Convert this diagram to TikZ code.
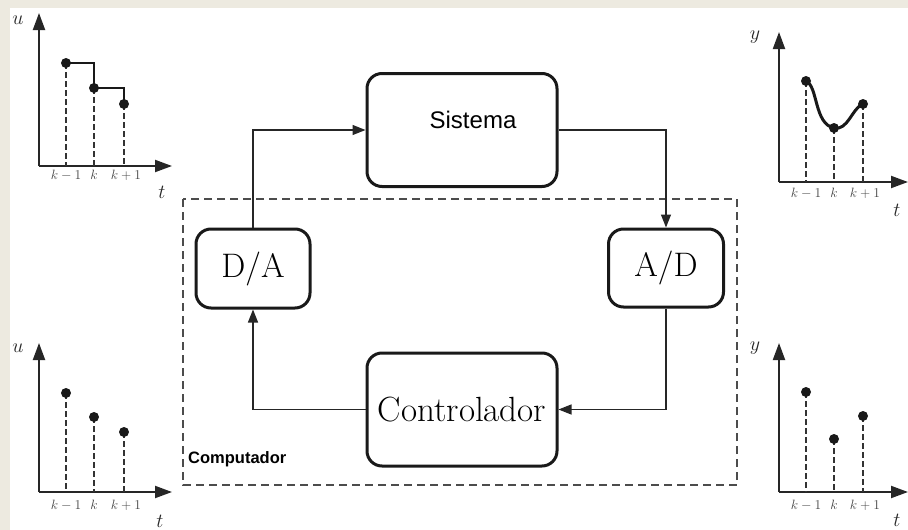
\RequirePackage{fix-cm}
\documentclass[tikz,border=0pt]{standalone}
\usepackage{fontspec}
\newfontfamily\arialf{Liberation Sans}
\usetikzlibrary{arrows.meta}
\definecolor{paper}{HTML}{EDEAE0}
\definecolor{tickgray}{HTML}{444444}
\begin{document}
\begin{tikzpicture}[x=1pt,y=-1pt,
  block/.style={draw=black!90, line width=3pt, rounded corners=15pt, fill=white, inner sep=0pt},
  wire/.style={line width=1.3pt, black!85},
  flow/.style={wire, -{Triangle[length=13pt,width=10pt]}},
  axis/.style={line width=2pt, black!85, -{Triangle[length=17pt,width=12pt]}},
  drop/.style={line width=1.2pt, black!80, dash pattern=on 6pt off 3pt},
  dot/.style={fill=black!90},
  ticklbl/.style={text=tickgray, font=\fontsize{13.5}{16}\selectfont, inner sep=0pt},
  axlbl/.style={text=black!85, font=\fontsize{20}{24}\selectfont, inner sep=0pt},
  bigtxt/.style={font=\fontsize{34}{40}\selectfont}
]
\useasboundingbox (0,0) rectangle (908,530);
% paper
\fill[white] (0,0) rectangle (908,530);
\fill[paper] (0,0) rectangle (908,8);
\fill[paper] (0,0) rectangle (10,530);

% computer boundary
\draw[line width=1.3pt, black!70, dash pattern=on 8pt off 5pt] (183,199) rectangle (737,485);
\node[anchor=base west, font=\arialf\bfseries\fontsize{16.5}{20}\selectfont, inner sep=0pt] (comp) at (188,463) {Computador};

% blocks
\node[block, minimum width=190pt, minimum height=113pt] (sis) at (462,130) {};
\node[font=\arialf\fontsize{24}{28}\selectfont] (sistxt) at ([xshift=11pt,yshift=10pt]sis.center) {Sistema};
\node[block, minimum width=114pt, minimum height=79pt, bigtxt] (da) at (253,268.5) {D/A};
\node[block, minimum width=115pt, minimum height=78pt, bigtxt] (ad) at (666,268) {A/D};
\node[block, minimum width=190pt, minimum height=113pt, font=\fontsize{35}{42}\selectfont] (ctrl) at (462,409.5) {Controlador};

% signal loop
\draw[flow] (da.north) |- (sis.west);
\draw[flow] (sis.east) -| (ad.north);
\draw[flow] (ad.south) |- (ctrl.east);
\draw[flow] (ctrl.west) -| (da.south);

% ---- u(t), zero-order hold (top left)
\draw[axis] (39,166) -- (39,13);
\draw[axis] (39,166) -- (172,166);
\node[axlbl] (u1) at (18,20) {$u$};
\node[axlbl] (t1) at (162,192) {$t$};
\draw[drop] (66,63) -- (66,166);
\draw[drop] (94,88) -- (94,166);
\draw[drop] (124,104) -- (124,166);
\draw[line width=2.5pt, black!90] (66,63) -- (94,63) -- (94,88) -- (124,88) -- (124,104);
\foreach \px/\py in {66/63, 94/88, 124/104} \fill[dot] (\px,\py) circle (5pt);
\node[ticklbl] at (66,175) {$k-1$};
\node[ticklbl] at (94,175) {$k$};
\node[ticklbl] at (126,175) {$k+1$};

% ---- y(t), continuous output (top right)
\draw[axis] (779,182) -- (779,32);
\draw[axis] (779,182) -- (908,182);
\node[axlbl] (y1) at (755,37) {$y$};
\node[axlbl] (t2) at (897,210) {$t$};
\draw[drop] (806,81) -- (806,182);
\draw[drop] (834,128) -- (834,182);
\draw[drop] (863,104) -- (863,182);
\draw[line width=3pt, black!90] (806,81) .. controls (818,86) and (814,124) .. (834,128)
  .. controls (848,131) and (852,108) .. (863,104);
\foreach \px/\py in {806/81, 834/128, 863/104} \fill[dot] (\px,\py) circle (5pt);
\node[ticklbl] at (806,193) {$k-1$};
\node[ticklbl] at (834,193) {$k$};
\node[ticklbl] at (865,193) {$k+1$};

% ---- u(k), samples (bottom left)
\draw[axis] (39,492) -- (39,343);
\draw[axis] (39,492) -- (172,492);
\node[axlbl] (u2) at (18,348) {$u$};
\node[axlbl] (t3) at (160,521) {$t$};
\draw[drop] (66,393) -- (66,492);
\draw[drop] (94,417) -- (94,492);
\draw[drop] (124,432) -- (124,492);
\foreach \px/\py in {66/393, 94/417, 124/432} \fill[dot] (\px,\py) circle (5pt);
\node[ticklbl] at (66,505) {$k-1$};
\node[ticklbl] at (94,505) {$k$};
\node[ticklbl] at (126,505) {$k+1$};

% ---- y(k), samples (bottom right)
\draw[axis] (779,492) -- (779,343);
\draw[axis] (779,492) -- (908,492);
\node[axlbl] (y2) at (755,348) {$y$};
\node[axlbl] (t4) at (897,520) {$t$};
\draw[drop] (806,392) -- (806,492);
\draw[drop] (834,439) -- (834,492);
\draw[drop] (863,416) -- (863,492);
\foreach \px/\py in {806/392, 834/439, 863/416} \fill[dot] (\px,\py) circle (5pt);
\node[ticklbl] at (806,505) {$k-1$};
\node[ticklbl] at (834,505) {$k$};
\node[ticklbl] at (865,505) {$k+1$};
\end{tikzpicture}
\end{document}
